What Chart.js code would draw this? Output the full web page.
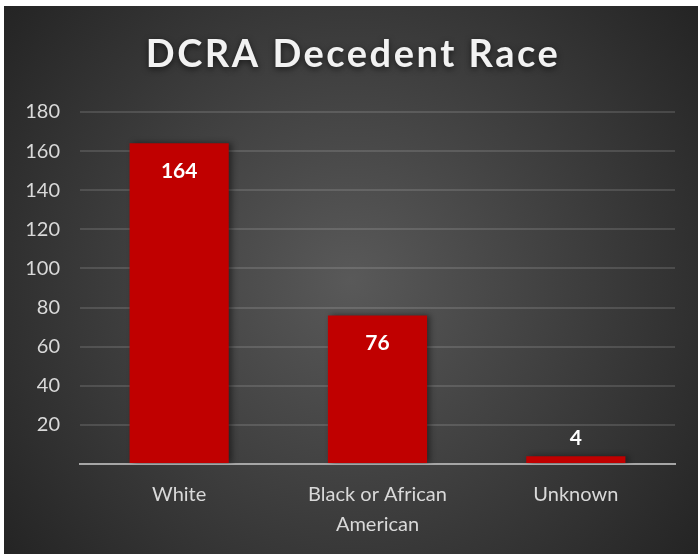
<!DOCTYPE html>
<html>
<head>
<meta charset="utf-8">
<script src="https://cdn.jsdelivr.net/npm/chart.js@4"></script>
<style>
  html, body { margin: 0; padding: 0; background: #fff; }
  #raceChart { position: absolute; left: 4px; top: 6px; }
</style>
</head>
<body>
<canvas id="raceChart" width="694" height="548"></canvas>
<script>
var chartTitle = 'DCRA Decedent Race';
var categories = ['White', ['Black or African', 'American'], 'Unknown'];
var decedents = [164, 76, 4];
var yMax = 180;
var yStep = 20;

// dark radial backdrop behind everything
var backdrop = {
    id: 'backdrop',
    beforeDraw: function(chart) {
        var ctx = chart.ctx;
        var w = chart.width, h = chart.height;
        var g = ctx.createRadialGradient(w / 2, h / 2, 0, w / 2, h / 2, Math.sqrt(w * w + h * h) / 2);
        g.addColorStop(0, '#595959');
        g.addColorStop(1, '#242424');
        ctx.save();
        ctx.fillStyle = g;
        ctx.fillRect(0, 0, w, h);
        ctx.restore();
    }
};

// title with letter spacing and a soft shadow
var spacedTitle = {
    id: 'spacedTitle',
    afterDraw: function(chart) {
        var ctx = chart.ctx;
        ctx.save();
        ctx.font = 'bold 38px Lato';
        ctx.letterSpacing = '2.5px';
        ctx.textAlign = 'center';
        ctx.textBaseline = 'middle';
        ctx.shadowColor = 'rgba(0,0,0,0.6)';
        ctx.shadowBlur = 6;
        ctx.shadowOffsetY = 2;
        ctx.fillStyle = '#f2f2f2';
        ctx.fillText(chartTitle, chart.width / 2 + 2, 49);
        ctx.restore();
    }
};

// bar shadows
var barShadow = {
    id: 'barShadow',
    beforeDatasetsDraw: function(chart) {
        var ctx = chart.ctx;
        ctx.save();
        ctx.shadowColor = 'rgba(0,0,0,0.45)';
        ctx.shadowBlur = 6;
        ctx.shadowOffsetX = 3;
    },
    afterDatasetsDraw: function(chart) {
        chart.ctx.restore();
    }
};

// value labels: inside the bar top, or above it when the bar is short
var valueLabels = {
    id: 'valueLabels',
    afterDatasetsDraw: function(chart) {
        var ctx = chart.ctx;
        var meta = chart.getDatasetMeta(0);
        ctx.save();
        ctx.font = 'bold 21px Lato';
        ctx.fillStyle = '#ffffff';
        ctx.textAlign = 'center';
        ctx.textBaseline = 'middle';
        meta.data.forEach(function(bar, i) {
            var v = decedents[i];
            var tall = bar.base - bar.y > 40;
            var y = tall ? bar.y + 28 : bar.y - 18;
            ctx.fillText(String(v), bar.x, y);
        });
        ctx.restore();
    }
};

new Chart(document.getElementById('raceChart').getContext('2d'), {
    type: 'bar',
    data: {
        labels: categories,
        datasets: [{
            data: decedents,
            backgroundColor: '#c00000',
            borderWidth: 0,
            barPercentage: 0.5,
            categoryPercentage: 1
        }]
    },
    options: {
        responsive: false,
        animation: false,
        layout: { padding: { top: 106, right: 23, left: 0, bottom: 0 } },
        plugins: {
            legend: { display: false },
            title: { display: false },
            tooltip: { enabled: false }
        },
        scales: {
            x: {
                afterFit: function(axis) { axis.height -= 2; },
                grid: { display: false, drawTicks: false },
                border: { display: true, color: '#a6a6a6', width: 2 },
                ticks: {
                    color: '#d9d9d9',
                    font: { family: 'Lato', size: 20, lineHeight: 1.5 },
                    padding: 16,
                    maxRotation: 0,
                    autoSkip: false
                }
            },
            y: {
                min: 0,
                max: yMax,
                afterFit: function(axis) { axis.width = 76; },
                grid: { color: 'rgba(255,255,255,0.13)', lineWidth: 2, drawTicks: false },
                border: { display: false },
                ticks: {
                    stepSize: yStep,
                    color: '#d9d9d9',
                    font: { family: 'Lato', size: 20 },
                    padding: 20,
                    callback: function(value) { return value === 0 ? '' : value; }
                }
            }
        }
    },
    plugins: [backdrop, barShadow, valueLabels, spacedTitle]
});
</script>
</body>
</html>
